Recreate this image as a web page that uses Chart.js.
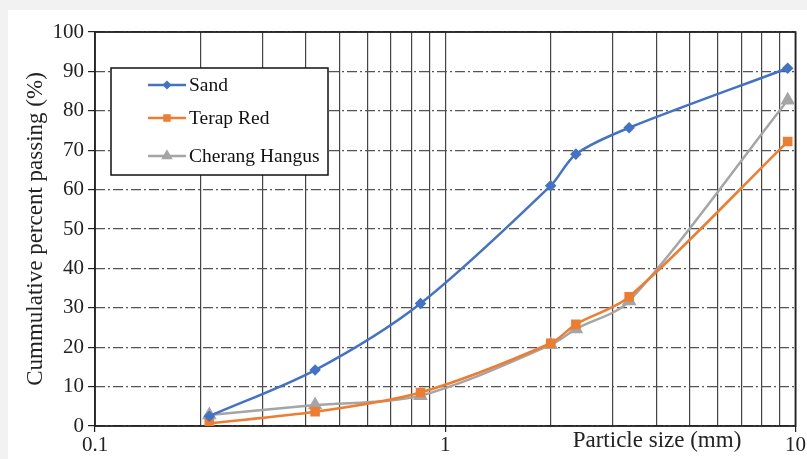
<!DOCTYPE html>
<html>
<head>
<meta charset="utf-8">
<script src="https://cdn.jsdelivr.net/npm/chart.js@4.4.0/dist/chart.umd.min.js"></script>
<style>
html, body { margin: 0; padding: 0; background: #f2f2f2; }
#wrap { width: 807px; height: 459px; }
</style>
</head>
<body>
<div id="wrap"><canvas id="grading" width="807" height="459"></canvas></div>
<script>
// sieve sizes (mm) and % passing
const sieveSizes = [0.212, 0.425, 0.85, 2.0, 2.36, 3.35, 9.5]
const sand = [2.5, 14.2, 31.1, 61.0, 69.0, 75.7, 90.8]
const terapRed = [0.7, 3.6, 8.5, 21.0, 25.8, 32.8, 72.2]
const cherangHangus = [2.8, 5.3, 7.7, 20.6, 24.6, 31.7, 82.7]

const xGridValues = [0.1, 0.2, 0.3, 0.4, 0.5, 0.6, 0.7, 0.8, 0.9, 1, 2, 3, 4, 5, 6, 7, 8, 9, 10]
const xTickLabels = ['0.1', '1', '10']

const serif = 'Liberation Serif, Times New Roman, serif'

const toPoints = vals => sieveSizes.map((s, i) => ({ x: s, y: vals[i] }))

const background = {
    id: 'background',
    beforeDraw(chart) {
        const c = chart.ctx
        c.save()
        c.fillStyle = '#f2f2f2'
        c.fillRect(0, 0, chart.width, chart.height)
        c.fillStyle = '#ffffff'
        c.fillRect(8, 10, chart.width - 8, chart.height - 10)
        c.restore()
    }
}

const frame = {
    id: 'frame',
    beforeDatasetsDraw(chart) {
        const a = chart.chartArea
        const c = chart.ctx
        c.save()
        c.strokeStyle = '#222'
        c.lineWidth = 1.8
        c.strokeRect(a.left, a.top, a.right - a.left, a.bottom - a.top)
        c.restore()
    },
    afterDraw(chart) {
        const c = chart.ctx
        c.save()
        c.font = '23px ' + serif
        c.fillStyle = '#222'
        c.textAlign = 'center'
        c.textBaseline = 'alphabetic'
        c.fillText('Particle size (mm)', 657, 447)
        c.restore()
    }
}

const boxLegend = {
    id: 'boxLegend',
    afterDraw(chart) {
        const c = chart.ctx
        const rows = [85, 118, 156]
        c.save()
        c.fillStyle = '#ffffff'
        c.fillRect(111, 68, 217, 107)
        c.strokeStyle = '#111'
        c.lineWidth = 1.5
        c.strokeRect(111, 68, 217, 107)
        chart.data.datasets.forEach((ds, i) => {
            const y = rows[i]
            c.strokeStyle = ds.borderColor
            c.lineWidth = ds.borderWidth
            c.beginPath()
            c.moveTo(148, y)
            c.lineTo(186, y)
            c.stroke()
            c.fillStyle = ds.pointBackgroundColor
            Chart.helpers.drawPoint(c, { pointStyle: ds.pointStyle, radius: ds.pointRadius * 0.7, rotation: 0, borderWidth: 1 }, 167, y)
            c.fillStyle = '#111'
            c.font = '19.5px ' + serif
            c.textAlign = 'left'
            c.textBaseline = 'middle'
            c.fillText(ds.label, 189, y + 1)
        })
        c.restore()
    }
}

new Chart(document.getElementById('grading'), {
    type: 'line',
    data: {
        datasets: [{
            label: 'Sand',
            data: toPoints(sand),
            borderColor: '#4472C4',
            backgroundColor: '#4472C4',
            pointBackgroundColor: '#4472C4',
            pointBorderColor: '#4472C4',
            pointStyle: 'rectRot',
            pointRadius: 4,
            borderWidth: 2.5
        }, {
            label: 'Terap Red',
            data: toPoints(terapRed),
            borderColor: '#ED7D31',
            backgroundColor: '#ED7D31',
            pointBackgroundColor: '#ED7D31',
            pointBorderColor: '#ED7D31',
            pointStyle: 'rect',
            pointRadius: 5,
            borderWidth: 2.5
        }, {
            label: 'Cherang Hangus',
            data: toPoints(cherangHangus),
            borderColor: '#A5A5A5',
            backgroundColor: '#A5A5A5',
            pointBackgroundColor: '#A5A5A5',
            pointBorderColor: '#A5A5A5',
            pointStyle: 'triangle',
            pointRadius: 6,
            borderWidth: 2.5
        }]
    },
    options: {
        responsive: false,
        devicePixelRatio: 1,
        animation: false,
        layout: { padding: { top: 32, right: 9, bottom: 0, left: 0 } },
        plugins: { legend: { display: false }, tooltip: { enabled: false } },
        elements: { line: { tension: 0.3 } },
        scales: {
            x: {
                type: 'logarithmic',
                min: 0.1,
                max: 10,
                afterBuildTicks(s) { s.ticks = xGridValues.map(v => ({ value: v })) },
                afterFit(s) { s.height = 33 },
                ticks: {
                    autoSkip: false,
                    maxRotation: 0,
                    padding: 1,
                    color: '#222',
                    font: { family: serif, size: 21 },
                    callback: v => xTickLabels.includes(String(v)) ? String(v) : ''
                },
                grid: {
                    color: '#444',
                    lineWidth: 1.2,
                    tickLength: 6,
                    tickColor: ctx => ctx.tick && xTickLabels.includes(String(ctx.tick.value)) ? '#222' : 'rgba(0,0,0,0)'
                },
                border: { display: false }
            },
            y: {
                min: 0,
                max: 100,
                afterFit(s) { s.width = 95 },
                ticks: {
                    stepSize: 10,
                    padding: 4,
                    color: '#222',
                    font: { family: serif, size: 21 }
                },
                grid: { color: '#555', lineWidth: 1.2, tickLength: 7, tickColor: '#222', tickBorderDash: [] },
                border: { display: false, dash: [10, 3, 2, 3] },
                title: {
                    display: true,
                    text: 'Cummulative percent passing (%)',
                    color: '#222',
                    font: { family: serif, size: 23 },
                    padding: { top: 22, bottom: 0 }
                }
            }
        }
    },
    plugins: [background, frame, boxLegend]
})
</script>
</body>
</html>
